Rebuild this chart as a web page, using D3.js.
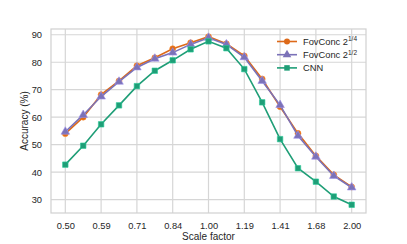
<!DOCTYPE html>
<html>
<head>
<meta charset="utf-8">
<script src="https://cdn.jsdelivr.net/npm/d3@7"></script>
<style>
body { margin: 0; background: #fff; }
text { font-family: "Liberation Sans", Arial, sans-serif; fill: #262626; }
</style>
</head>
<body>
<div id="chart"></div>
<script>
var w = 407;
var h = 244;

// scale factors are 2^(k/8), k = -8..8
var steps = d3.range(-8, 9);
var tickSteps = [-8, -6, -4, -2, 0, 2, 4, 6, 8];
var tickLabels = ['0.50', '0.59', '0.71', '0.84', '1.00', '1.19', '1.41', '1.68', '2.00'];

var fov14 = [54.0, 60.0, 68.2, 73.2, 78.7, 81.6, 84.9, 87.1, 89.3, 86.7, 82.3, 73.9, 63.8, 54.1, 45.9, 39.0, 34.6];
var fov12 = [54.7, 60.8, 67.5, 72.9, 78.1, 81.3, 83.5, 86.5, 88.9, 86.5, 81.8, 73.2, 64.4, 53.2, 45.6, 38.6, 34.4];
var cnn   = [42.7, 49.6, 57.4, 64.3, 71.3, 76.9, 80.7, 84.7, 87.6, 85.1, 77.5, 65.4, 52.0, 41.4, 36.5, 31.1, 28.1];

var yTicks = [30, 40, 50, 60, 70, 80, 90];

var series = [
    {name: 'FovConc 2', sup: '1/4', vals: fov14, color: '#dd6a1a', marker: 'circle'},
    {name: 'FovConc 2', sup: '1/2', vals: fov12, color: '#7b72b8', marker: 'triangle'},
    {name: 'CNN', sup: '', vals: cnn, color: '#1f9e77', marker: 'square'}
];

var pLeft = 51, pRight = 366, pTop = 29, pBottom = 213;

var svg = d3.select('#chart')
            .append('svg')
            .attr('width', w)
            .attr('height', h);

var x = d3.scaleLinear().domain([-8.8, 8.8]).range([pLeft, pRight]);
var y = d3.scaleLinear().domain([25.1, 92.1]).range([pBottom, pTop]);

// grid
svg.append('g')
   .selectAll('line')
   .data(tickSteps)
   .enter()
   .append('line')
   .attr('x1', function(d) { return x(d); })
   .attr('x2', function(d) { return x(d); })
   .attr('y1', pTop).attr('y2', pBottom)
   .style('stroke', '#d6d6d6').style('stroke-width', 1.2);

svg.append('g')
   .selectAll('line')
   .data(yTicks)
   .enter()
   .append('line')
   .attr('y1', function(d) { return y(d); })
   .attr('y2', function(d) { return y(d); })
   .attr('x1', pLeft).attr('x2', pRight)
   .style('stroke', '#d6d6d6').style('stroke-width', 1.2);

svg.append('rect')
   .attr('x', pLeft).attr('y', pTop)
   .attr('width', pRight - pLeft).attr('height', pBottom - pTop)
   .style('fill', 'none').style('stroke', '#d0d0d0').style('stroke-width', 1.2);

// axes (labels only, seaborn style)
var xAxis = d3.axisBottom(x).tickValues(tickSteps).tickSize(0).tickPadding(9)
              .tickFormat(function(d, i) { return tickLabels[i]; });
var yAxis = d3.axisLeft(y).tickValues(yTicks).tickSize(0).tickPadding(9);

var gx = svg.append('g').attr('transform', 'translate(0,' + pBottom + ')').call(xAxis);
var gy = svg.append('g').attr('transform', 'translate(' + pLeft + ',0)').call(yAxis);
[gx, gy].forEach(function(g) {
    g.select('.domain').remove();
    g.selectAll('text').style('font-size', '9.3px').style('font-family', '"Liberation Sans", Arial, sans-serif').style('fill', '#262626');
});

svg.append('text')
   .attr('x', (pLeft + pRight) / 2).attr('y', 240)
   .attr('text-anchor', 'middle')
   .style('font-size', '10px')
   .text('Scale factor');

svg.append('text')
   .attr('transform', 'translate(28,' + ((pTop + pBottom) / 2) + ') rotate(-90)')
   .attr('text-anchor', 'middle')
   .style('font-size', '10px')
   .text('Accuracy (%)');

var symbols = {
    circle: d3.symbol().type(d3.symbolCircle).size(28),
    triangle: d3.symbol().type(d3.symbolTriangle).size(32),
    square: d3.symbol().type(d3.symbolSquare).size(30)
};

var line = d3.line()
             .x(function(d, i) { return x(steps[i]); })
             .y(function(d) { return y(d); });

// plot order: orange, purple, green (purple lies over orange)
series.forEach(function(s) {
    var g = svg.append('g');
    g.append('path')
     .attr('d', line(s.vals))
     .style('fill', 'none')
     .style('stroke', s.color)
     .style('stroke-width', 1.6);
    g.selectAll('path.pt')
     .data(s.vals)
     .enter()
     .append('path')
     .attr('class', 'pt')
     .attr('d', symbols[s.marker])
     .attr('transform', function(d, i) { return 'translate(' + x(steps[i]) + ',' + y(d) + ')'; })
     .style('fill', s.color)
     .style('stroke', d3.rgb(s.color).brighter(0.7))
     .style('stroke-width', 0.6);
});

// legend
var legend = svg.append('g');
series.forEach(function(s, i) {
    var ly = 41.5 + i * 13.2;
    legend.append('line')
          .attr('x1', 277).attr('x2', 297)
          .attr('y1', ly).attr('y2', ly)
          .style('stroke', s.color).style('stroke-width', 1.6);
    legend.append('path')
          .attr('d', symbols[s.marker])
          .attr('transform', 'translate(287,' + ly + ')')
          .style('fill', s.color);
    var t = legend.append('text')
                  .attr('x', 303).attr('y', ly + 3.4)
                  .style('font-size', '9.3px')
                  .text(s.name);
    if (s.sup) {
        t.append('tspan')
         .attr('dy', -3.5)
         .style('font-size', '6.5px')
         .text(s.sup);
    }
});
</script>
</body>
</html>
